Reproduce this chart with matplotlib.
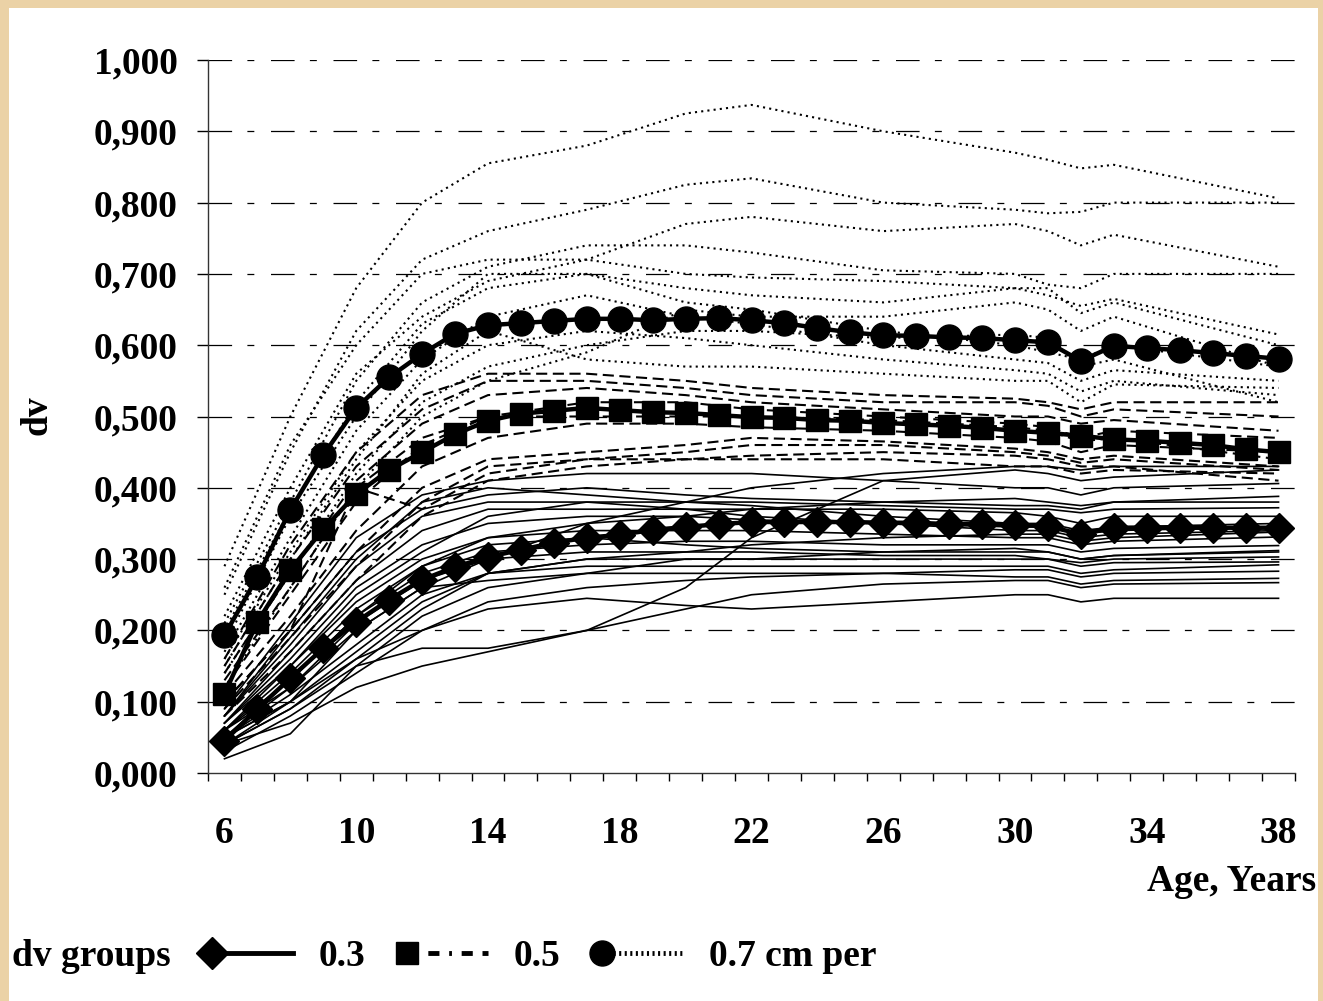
import numpy as np
import matplotlib
matplotlib.use('Agg')
import matplotlib.pyplot as plt
from matplotlib.lines import Line2D
from matplotlib.patches import Rectangle
from matplotlib.legend_handler import HandlerLine2D

plt.rcParams['font.family'] = ['Liberation Serif', 'DejaVu Serif']
plt.rcParams['font.weight'] = 'bold'
plt.rcParams['lines.scale_dashes'] = False

# ages of the group means (every year)
ages = list(range(6, 39))
mean_03 = [0.045, 0.090, 0.133, 0.175, 0.212, 0.243, 0.271, 0.289, 0.303, 0.313, 0.323,
           0.330, 0.334, 0.341, 0.345, 0.349, 0.352, 0.352, 0.352, 0.352, 0.351, 0.351,
           0.349, 0.349, 0.348, 0.346, 0.335, 0.344, 0.344, 0.344, 0.344, 0.344, 0.344]
mean_05 = [0.111, 0.212, 0.285, 0.342, 0.391, 0.425, 0.450, 0.475, 0.494, 0.504, 0.508,
           0.512, 0.509, 0.506, 0.505, 0.502, 0.499, 0.498, 0.495, 0.494, 0.491, 0.489,
           0.487, 0.484, 0.480, 0.477, 0.473, 0.468, 0.466, 0.463, 0.460, 0.454, 0.450]
mean_07 = [0.193, 0.275, 0.369, 0.446, 0.512, 0.555, 0.588, 0.616, 0.628, 0.631, 0.634,
           0.637, 0.637, 0.635, 0.637, 0.638, 0.635, 0.631, 0.624, 0.618, 0.614, 0.613,
           0.611, 0.610, 0.607, 0.604, 0.578, 0.599, 0.596, 0.593, 0.589, 0.585, 0.581]

# individual trees, read at these ages
tree_ages = [6, 8, 10, 12, 14, 17, 20, 22, 26, 30, 31, 32, 33, 38]

trees_03 = [
    [0.04, 0.07, 0.12, 0.15, 0.17, 0.20, 0.26, 0.33, 0.41, 0.425, 0.42, 0.41, 0.415, 0.425],
    [0.05, 0.10, 0.16, 0.20, 0.23, 0.245, 0.235, 0.23, 0.24, 0.25, 0.25, 0.24, 0.245, 0.245],
    [0.02, 0.055, 0.15, 0.175, 0.175, 0.20, 0.23, 0.25, 0.265, 0.27, 0.27, 0.26, 0.265, 0.267],
    [0.04, 0.09, 0.15, 0.22, 0.26, 0.28, 0.28, 0.28, 0.28, 0.275, 0.275, 0.265, 0.27, 0.273],
    [0.05, 0.11, 0.18, 0.25, 0.28, 0.29, 0.29, 0.29, 0.29, 0.29, 0.29, 0.28, 0.285, 0.292],
    [0.04, 0.10, 0.20, 0.26, 0.27, 0.28, 0.30, 0.30, 0.30, 0.30, 0.30, 0.29, 0.295, 0.296],
    [0.05, 0.12, 0.21, 0.27, 0.30, 0.31, 0.31, 0.31, 0.305, 0.305, 0.30, 0.295, 0.30, 0.303],
    [0.06, 0.14, 0.23, 0.29, 0.32, 0.33, 0.32, 0.315, 0.31, 0.31, 0.31, 0.30, 0.305, 0.31],
    [0.05, 0.13, 0.22, 0.28, 0.31, 0.32, 0.325, 0.325, 0.32, 0.32, 0.32, 0.31, 0.315, 0.319],
    [0.06, 0.15, 0.24, 0.30, 0.33, 0.34, 0.34, 0.34, 0.335, 0.33, 0.33, 0.32, 0.325, 0.331],
    [0.07, 0.16, 0.26, 0.32, 0.35, 0.36, 0.36, 0.355, 0.35, 0.345, 0.345, 0.335, 0.34, 0.345],
    [0.07, 0.17, 0.27, 0.34, 0.37, 0.37, 0.37, 0.37, 0.37, 0.365, 0.36, 0.35, 0.36, 0.36],
    [0.08, 0.18, 0.29, 0.36, 0.38, 0.38, 0.38, 0.38, 0.375, 0.37, 0.37, 0.365, 0.37, 0.372],
    [0.08, 0.20, 0.31, 0.37, 0.39, 0.40, 0.39, 0.385, 0.38, 0.375, 0.375, 0.37, 0.38, 0.388],
    [0.09, 0.21, 0.33, 0.39, 0.41, 0.42, 0.42, 0.42, 0.41, 0.40, 0.40, 0.39, 0.40, 0.406],
    [0.06, 0.12, 0.20, 0.26, 0.30, 0.35, 0.38, 0.40, 0.42, 0.43, 0.43, 0.425, 0.43, 0.43],
    [0.03, 0.08, 0.14, 0.20, 0.24, 0.26, 0.27, 0.275, 0.28, 0.285, 0.285, 0.275, 0.28, 0.283],
    [0.05, 0.10, 0.17, 0.24, 0.28, 0.30, 0.31, 0.32, 0.33, 0.335, 0.335, 0.325, 0.33, 0.338],
    [0.07, 0.15, 0.25, 0.31, 0.36, 0.38, 0.37, 0.36, 0.35, 0.34, 0.34, 0.33, 0.335, 0.34],
    [0.08, 0.19, 0.30, 0.38, 0.40, 0.39, 0.38, 0.375, 0.36, 0.35, 0.35, 0.34, 0.345, 0.35],
    [0.06, 0.13, 0.22, 0.29, 0.33, 0.35, 0.36, 0.37, 0.38, 0.385, 0.38, 0.375, 0.38, 0.38],
    [0.04, 0.09, 0.16, 0.23, 0.28, 0.30, 0.30, 0.30, 0.31, 0.315, 0.31, 0.30, 0.305, 0.312],
]

trees_05 = [
    [0.15, 0.30, 0.43, 0.51, 0.55, 0.55, 0.54, 0.53, 0.52, 0.52, 0.515, 0.50, 0.51, 0.50],
    [0.14, 0.28, 0.41, 0.49, 0.53, 0.54, 0.53, 0.52, 0.51, 0.50, 0.50, 0.49, 0.495, 0.48],
    [0.12, 0.25, 0.38, 0.46, 0.50, 0.52, 0.52, 0.51, 0.50, 0.49, 0.485, 0.47, 0.48, 0.47],
    [0.11, 0.22, 0.34, 0.43, 0.47, 0.49, 0.49, 0.485, 0.48, 0.47, 0.465, 0.45, 0.46, 0.45],
    [0.10, 0.20, 0.31, 0.40, 0.44, 0.45, 0.46, 0.47, 0.465, 0.455, 0.45, 0.44, 0.445, 0.43],
    [0.09, 0.19, 0.29, 0.38, 0.43, 0.44, 0.44, 0.445, 0.45, 0.445, 0.44, 0.43, 0.43, 0.41],
    [0.10, 0.20, 0.40, 0.37, 0.42, 0.44, 0.45, 0.46, 0.46, 0.45, 0.445, 0.435, 0.44, 0.425],
    [0.16, 0.32, 0.45, 0.53, 0.56, 0.56, 0.55, 0.54, 0.53, 0.525, 0.52, 0.51, 0.52, 0.52],
    [0.13, 0.26, 0.40, 0.47, 0.50, 0.50, 0.50, 0.50, 0.495, 0.485, 0.48, 0.465, 0.47, 0.44],
    [0.08, 0.17, 0.27, 0.36, 0.41, 0.43, 0.44, 0.44, 0.44, 0.43, 0.43, 0.42, 0.425, 0.42],
]

trees_07 = [
    [0.29, 0.50, 0.68, 0.80, 0.855, 0.88, 0.925, 0.937, 0.90, 0.87, 0.86, 0.848, 0.853, 0.806],
    [0.25, 0.45, 0.62, 0.72, 0.76, 0.79, 0.825, 0.834, 0.80, 0.79, 0.785, 0.787, 0.80, 0.80],
    [0.22, 0.40, 0.56, 0.64, 0.69, 0.72, 0.77, 0.78, 0.76, 0.77, 0.76, 0.74, 0.755, 0.71],
    [0.21, 0.38, 0.55, 0.66, 0.71, 0.74, 0.74, 0.73, 0.705, 0.70, 0.685, 0.68, 0.70, 0.70],
    [0.20, 0.37, 0.52, 0.63, 0.68, 0.70, 0.68, 0.67, 0.66, 0.68, 0.67, 0.655, 0.665, 0.615],
    [0.18, 0.36, 0.50, 0.62, 0.70, 0.70, 0.66, 0.65, 0.62, 0.60, 0.59, 0.58, 0.60, 0.57],
    [0.17, 0.33, 0.48, 0.58, 0.64, 0.67, 0.64, 0.63, 0.60, 0.58, 0.575, 0.55, 0.565, 0.55],
    [0.16, 0.31, 0.45, 0.55, 0.60, 0.62, 0.61, 0.60, 0.58, 0.565, 0.56, 0.535, 0.55, 0.53],
    [0.15, 0.30, 0.44, 0.56, 0.62, 0.58, 0.57, 0.57, 0.56, 0.55, 0.55, 0.52, 0.545, 0.54],
    [0.14, 0.28, 0.42, 0.52, 0.57, 0.60, 0.62, 0.62, 0.61, 0.615, 0.61, 0.57, 0.58, 0.52],
    [0.12, 0.26, 0.40, 0.50, 0.55, 0.59, 0.65, 0.64, 0.64, 0.66, 0.65, 0.62, 0.64, 0.57],
    [0.26, 0.46, 0.60, 0.70, 0.72, 0.72, 0.70, 0.695, 0.69, 0.68, 0.68, 0.645, 0.66, 0.60],
]

y_ticks = [0.0, 0.1, 0.2, 0.3, 0.4, 0.5, 0.6, 0.7, 0.8, 0.9, 1.0]
x_ticks = [6, 10, 14, 18, 22, 26, 30, 34, 38]
legend_labels = ['0.3', '0.5', '0.7 cm per']

FS = 27
beige = '#EBD2A6'
fig = plt.figure(figsize=(13.23, 10.01), dpi=100, facecolor=beige)
fig.patches.append(Rectangle((9 / 1323, 0), (1318 - 9) / 1323, 1 - 8 / 1001,
                             transform=fig.transFigure, facecolor='white',
                             edgecolor='none', zorder=-10))
ax = fig.add_axes([208 / 1323, 1 - 773 / 1001, 1087 / 1323, 713 / 1001])
ax.set_facecolor('white')

# thin lines for individual trees
for t in trees_03:
    ax.plot(tree_ages, t, color='black', lw=1.2, zorder=2)
for t in trees_05:
    ax.plot(tree_ages, t, color='black', lw=1.5, dashes=(8, 4), zorder=2)
for t in trees_07:
    ax.plot(tree_ages, t, color='black', lw=1.5, dashes=(1.5, 3), zorder=2)

# group means
ax.plot(ages, mean_03, color='black', lw=3.2, marker='D', ms=15, zorder=5)
ax.plot(ages, mean_05, color='black', lw=3.2, marker='s', ms=16, zorder=5)
ax.plot(ages, mean_07, color='black', lw=3.2, marker='o', ms=18, zorder=5)

ax.set_xlim(5.5, 38.5)
ax.set_ylim(0, 1.0)
ax.set_yticks(y_ticks)
ax.set_yticklabels([('%.3f' % v).replace('.', ',') for v in y_ticks])
ax.set_xticks(x_ticks)
ax.set_xticks(np.arange(5.5, 39, 1), minor=True)
ax.tick_params(axis='x', which='major', length=0, pad=31, labelsize=FS)
ax.tick_params(axis='x', which='minor', length=6, width=1, direction='out')
ax.tick_params(axis='y', length=8, width=1, direction='out', pad=14, labelsize=FS)
for lab in ax.get_xticklabels() + ax.get_yticklabels():
    lab.set_fontweight('bold')

for y in y_ticks[1:]:
    ax.axhline(y, color='black', lw=0.9, dashes=(17, 11, 5, 12), zorder=1)

for s in ['top', 'right']:
    ax.spines[s].set_visible(False)
for s in ['left', 'bottom']:
    ax.spines[s].set_linewidth(1)
    ax.spines[s].set_color('#333333')

ax.set_ylabel('dv', fontsize=FS, fontweight='bold')
ax.yaxis.set_label_coords(-0.141, 0.502)
ax.set_xlabel('Age, Years', fontsize=FS, fontweight='bold', ha='right', va='center')
ax.xaxis.set_label_coords(1.019, -0.152)


class LeftMarker(HandlerLine2D):
    def create_artists(self, legend, orig_handle, xdescent, ydescent, width, height,
                       fontsize, trans):
        arts = super().create_artists(legend, orig_handle, xdescent, ydescent, width,
                                      height, fontsize, trans)
        arts[0].set_markevery([0])
        return arts


handles = [
    Line2D([], [], color='black', lw=3.5, marker='D', ms=16),
    Line2D([], [], color='black', lw=3.5, marker='s', ms=16, dashes=(8, 7, 8, 7, 2, 7)),
    Line2D([], [], color='black', lw=3.5, marker='o', ms=18, dashes=(1.5, 2.5)),
]
fig.text(12 / 1323, 1 - 957 / 1001, 'dv groups', fontsize=FS, fontweight='bold',
         ha='left', va='center')
fig.legend(handles, legend_labels, loc='center left',
           bbox_to_anchor=(212 / 1323, 1 - 957 / 1001), ncol=3, frameon=False,
           prop={'size': FS, 'weight': 'bold'}, handlelength=2.15, handletextpad=0.7,
           columnspacing=1.1, borderpad=0, borderaxespad=0, numpoints=1,
           handler_map={Line2D: LeftMarker()})

fig.savefig('out.png', dpi=100, facecolor=beige)
